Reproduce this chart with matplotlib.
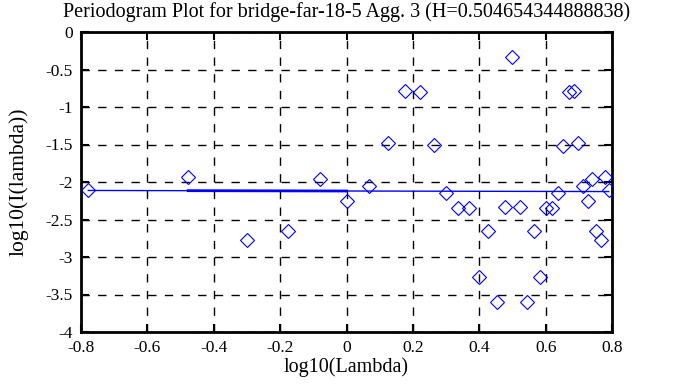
import matplotlib
matplotlib.use("Agg")
import matplotlib.pyplot as plt

plt.rcParams['font.family'] = ['Liberation Serif', 'DejaVu Serif']
plt.rcParams['axes.unicode_minus'] = False

# log10(Lambda) and log10(I(lambda))
log_lambda = [-0.778, -0.477, -0.301, -0.176, -0.079, 0.0, 0.067, 0.125, 0.176,
              0.222, 0.263, 0.301, 0.336, 0.368, 0.398, 0.426, 0.452, 0.477,
              0.500, 0.522, 0.544, 0.564, 0.583, 0.602, 0.620, 0.637, 0.653,
              0.669, 0.684, 0.699, 0.713, 0.727, 0.740, 0.753, 0.766, 0.778, 0.790]
log_power = [-2.11, -1.93, -2.77, -2.65, -1.96, -2.26, -2.05, -1.48, -0.79,
             -0.80, -1.51, -2.15, -2.35, -2.35, -3.27, -2.65, -3.60, -2.33,
             -0.33, -2.33, -3.60, -2.65, -3.27, -2.35, -2.34, -2.15, -1.52,
             -0.80, -0.79, -1.48, -2.05, -2.26, -1.96, -2.65, -2.77, -1.93, -2.10]

H = 0.504654344888838
intercept = -2.12
slope = 1 - 2 * H

fit_x = [log_lambda[0], log_lambda[-1]]
fit_y = [intercept + slope * x for x in fit_x]
thick_x = [log_lambda[1], log_lambda[5]]
thick_y = [intercept + slope * x for x in thick_x]

xticks = [-0.8, -0.6, -0.4, -0.2, 0, 0.2, 0.4, 0.6, 0.8]
yticks = [0, -0.5, -1, -1.5, -2, -2.5, -3, -3.5, -4]

fig = plt.figure(figsize=(6.78, 3.87), dpi=100)
ax = fig.add_axes([81 / 678, 55 / 387, 531 / 678, 300 / 387])

ax.plot(log_lambda, log_power, linestyle='none', marker='D', markersize=7.5,
        markerfacecolor='none', markeredgecolor='#0000ff', markeredgewidth=0.8,
        zorder=3)
ax.plot(fit_x, fit_y, color='#0000ff', linewidth=1, zorder=2)
ax.plot(thick_x, thick_y, color='#0000ff', linewidth=2, zorder=2)

ax.set_xlim(-0.8, 0.8)
ax.set_ylim(-4, 0)
ax.set_xticks(xticks)
ax.set_xticklabels(['-0.8', '-0.6', '-0.4', '-0.2', '0', '0.2', '0.4', '0.6', '0.8'])
ax.set_yticks(yticks)
ax.set_yticklabels(['0', '-0.5', '-1', '-1.5', '-2', '-2.5', '-3', '-3.5', '-4'])
ax.grid(True, color='black', linestyle=(0, (6, 6)), linewidth=1)
ax.tick_params(direction='in', length=6, width=1.5, top=True, right=True,
               labelsize=12.5, colors='black', pad=6)
for spine in ax.spines.values():
    spine.set_linewidth(2)

ax.set_title('Periodogram Plot for bridge-far-18-5 Agg. 3 (H=0.504654344888838)',
             fontsize=14.5, pad=11)
ax.set_xlabel('log10(Lambda)', fontsize=14.5, labelpad=1)
ax.set_ylabel('log10(I(lambda))', fontsize=15.5, labelpad=12)

fig.savefig('out.png', dpi=100)
